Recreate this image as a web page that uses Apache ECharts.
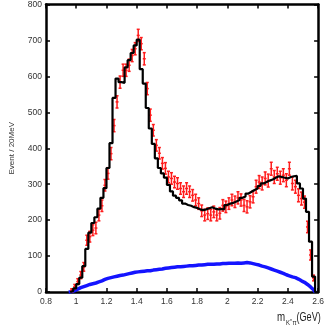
<!DOCTYPE html>
<html>
<head>
<meta charset="utf-8">
<script src="https://cdn.jsdelivr.net/npm/echarts@6/dist/echarts.min.js"></script>
<style>
  html, body { margin: 0; padding: 0; background: #fff; }
  #main { width: 327px; height: 327px; }
</style>
</head>
<body>
<div id="main"></div>
<script>
// 20 MeV bins from 0.96 to 2.58 GeV
var binStart = 0.96;
var binWidth = 0.02;

// fit result (black histogram)
var fitHist = [
  3, 10, 22, 40, 72, 120, 165, 192, 208, 232,
  262, 289, 345, 414, 540, 594, 584, 582, 625, 645,
  665, 686, 702, 620, 580, 512, 455, 412, 372, 345,
  330, 318, 298, 280, 268, 262, 255, 246, 242, 240,
  236, 234, 230, 228, 230, 233, 236, 232, 230, 231,
  230, 242, 246, 248, 252, 256, 262, 266, 274, 279,
  284, 288, 295, 302, 306, 310, 313, 318, 322, 320,
  318, 316, 320, 322, 323, 302, 288, 260, 223, 140,
  43
];

// data points (red) and their errors
var dataVals = [
  5, 15, 29, 47, 70, 144, 154, 172, 178, 214,
  240, 297, 330, 385, 463, 529, 584, 617, 617, 631,
  658, 677, 714, 691, 649, 566, 492, 450, 408, 386,
  358, 344, 320, 316, 306, 302, 288, 279, 288, 279,
  269, 256, 246, 226, 214, 218, 214, 223, 214, 219,
  241, 237, 246, 256, 251, 262, 256, 241, 237, 251,
  265, 293, 306, 302, 316, 310, 343, 320, 329, 318,
  325, 311, 343, 302, 293, 269, 260, 250, 181, 103,
  39
];
var dataErrs = [
  4, 6, 8, 10, 12, 14, 15, 15, 16, 16,
  16, 16, 16, 17, 17, 17, 17, 17, 17, 17,
  17, 17, 17, 17, 17, 17, 17, 16, 16, 16,
  16, 16, 16, 16, 16, 16, 16, 16, 16, 16,
  16, 16, 16, 16, 16, 16, 16, 16, 16, 16,
  16, 16, 16, 16, 16, 17, 17, 17, 17, 17,
  17, 18, 18, 18, 18, 18, 18, 18, 18, 18,
  18, 18, 18, 18, 18, 18, 18, 17, 16, 14,
  8
];

// background (blue)
var bkgVals = [
  1, 4, 8, 12, 15, 18, 21, 23, 25, 28,
  31, 35, 38, 40, 42, 44, 46, 47, 49, 51,
  53, 55, 56, 57, 58, 59, 59, 61, 62, 63,
  64, 66, 67, 68, 69, 70, 70, 71, 72, 73,
  73, 74, 75, 75, 76, 77, 77, 77, 78, 78,
  79, 79, 80, 80, 80, 81, 80, 81, 82, 81,
  79, 77, 75, 72, 70, 67, 64, 61, 58, 55,
  52, 48, 45, 42, 40, 36, 31, 27, 21, 14,
  6
];

var FONT = "'Liberation Sans', sans-serif";

function center(i) { return +(binStart + binWidth * (i + 0.5)).toFixed(3); }
var binEnd = +(binStart + binWidth * fitHist.length).toFixed(3);

// step outline of the fit
var fitLine = [[binStart, 0]];
fitHist.forEach(function (v, i) {
  var lo = +(binStart + binWidth * i).toFixed(3);
  fitLine.push([lo, v], [+(lo + binWidth).toFixed(3), v]);
});
fitLine.push([binEnd, 0]);

var bkgLine = [[binStart - 0.01, 0]];
bkgVals.forEach(function (v, i) { bkgLine.push([center(i), v]); });
bkgLine.push([binEnd, 0]);

var points = dataVals.map(function (v, i) { return [center(i), v, dataErrs[i]]; });

var myChart = echarts.init(document.getElementById("main"));

var axisLine = { show: true, onZero: false, lineStyle: { color: "#000", width: 2.5 } };
var tick = { show: true, inside: true, length: 4, lineStyle: { color: "#000", width: 1.5 } };
var lbl = { color: "#333", fontSize: 8.5, fontFamily: FONT };

function txt(s, x, y, size, sx) {
  return { type: "text", x: x, y: y, scaleX: sx, style: { text: s, fontSize: size, fontFamily: FONT, fill: "#222" } };
}

myChart.setOption({
  animation: false,
  grid: { left: 26, right: 5, top: 4, bottom: 35 },
  xAxis: [
    {
      type: "value", min: 0.8, max: 2.6, interval: 0.2, position: "bottom",
      axisLine: axisLine, axisTick: tick, splitLine: { show: false },
      axisLabel: Object.assign({ margin: 5 }, lbl)
    },
    {
      type: "value", min: 0.8, max: 2.6, interval: 0.2, position: "top",
      axisLine: axisLine, axisTick: tick, splitLine: { show: false },
      axisLabel: { show: false }
    }
  ],
  yAxis: [
    {
      type: "value", min: 0, max: 800, interval: 100, position: "left",
      axisLine: axisLine, axisTick: tick, splitLine: { show: false },
      axisLabel: Object.assign({ margin: 4 }, lbl),
      name: "Event / 20MeV", nameLocation: "middle", nameRotate: 90, nameGap: 30,
      nameTextStyle: { color: "#333", fontSize: 8, fontFamily: FONT }
    },
    {
      type: "value", min: 0, max: 800, interval: 100, position: "right",
      axisLine: axisLine, axisTick: tick, splitLine: { show: false },
      axisLabel: { show: false }
    }
  ],
  graphic: [
    txt("m", 277, 311, 13, 0.75),
    txt("K", 286, 320, 7, 0.85),
    txt("*", 290, 318, 6, 0.85),
    txt("π", 292.5, 320, 7, 0.85),
    txt("(GeV)", 296.5, 311, 13, 0.7)
  ],
  series: [
    {
      name: "bkg", type: "line", data: bkgLine, showSymbol: false, symbol: "none",
      lineStyle: { color: "#1414ff", width: 3.5 }, z: 2
    },
    {
      name: "data", type: "custom", data: points, z: 3,
      renderItem: function (params, api) {
        var x = api.value(0), v = api.value(1), e = api.value(2);
        var t = api.coord([x, v + e]), b = api.coord([x, Math.max(0, v - e)]), c = api.coord([x, v]);
        var st = { stroke: "#ff1c1c", lineWidth: 1.5 };
        var cap = 1.5;
        return {
          type: "group",
          children: [
            { type: "line", shape: { x1: t[0], y1: t[1], x2: b[0], y2: b[1] }, style: st },
            { type: "line", shape: { x1: t[0] - cap, y1: t[1], x2: t[0] + cap, y2: t[1] }, style: st },
            { type: "line", shape: { x1: b[0] - cap, y1: b[1], x2: b[0] + cap, y2: b[1] }, style: st },
            { type: "line", shape: { x1: c[0] - cap, y1: c[1], x2: c[0] + cap, y2: c[1] }, style: st }
          ]
        };
      }
    },
    {
      name: "fit", type: "line", data: fitLine, showSymbol: false, symbol: "none",
      lineStyle: { color: "#000", width: 2.2 }, z: 4
    }
  ]
});
</script>
</body>
</html>
